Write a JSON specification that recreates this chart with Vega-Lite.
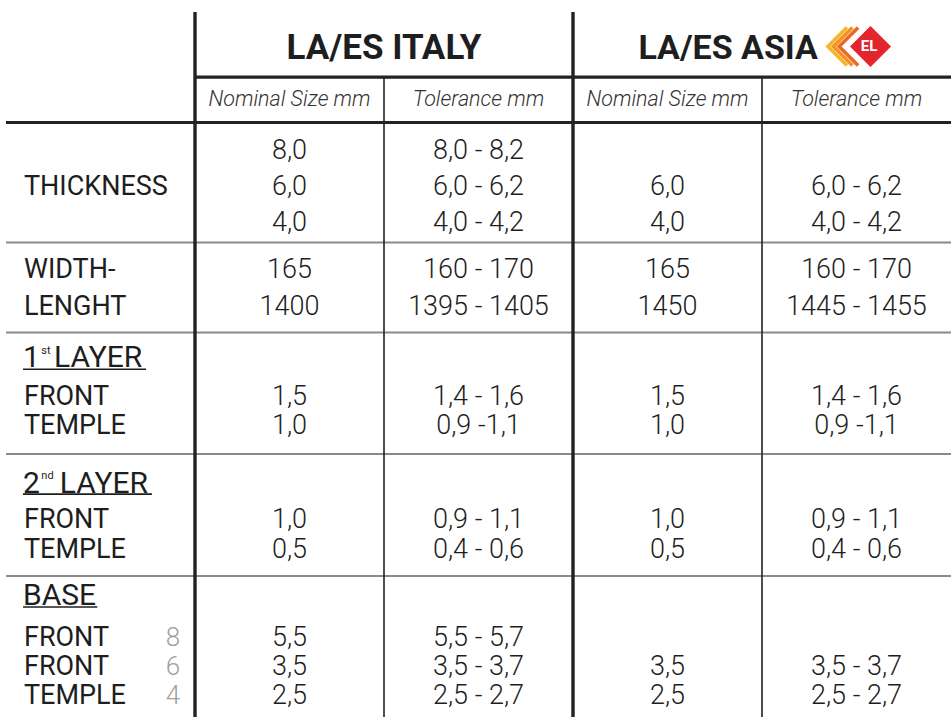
{
  "$schema": "https://vega.github.io/schema/vega-lite/v6.json",
  "width": 951,
  "height": 717,
  "padding": 0,
  "autosize": {"type": "none"},
  "background": "white",
  "config": {"view": {"stroke": null}, "font": "Roboto"},
  "datasets": {
    "thickH": [
      {"line": 2.58, "col": "itN", "col2": "asT"},
      {"line": 4.1, "col": "label", "col2": "asT"}
    ],
    "grayH": [
      {"line": 8.12, "col": "label", "col2": "asT"},
      {"line": 11.13, "col": "label", "col2": "asT"},
      {"line": 15.2, "col": "label", "col2": "asT"},
      {"line": 19.28, "col": "label", "col2": "asT"}
    ],
    "thickV": [
      {"col": "itN", "line": 0.4, "line2": 24},
      {"col": "asN", "line": 0.4, "line2": 24}
    ],
    "thinV": [
      {"col": "itT", "line": 2.58, "line2": 24},
      {"col": "asT", "line": 2.58, "line2": 24}
    ],
    "headItaly": [{"col": "itT", "line": 1.99, "text": "LA/ES ITALY"}],
    "headAsia": [{"col": "asT", "line": 1.99, "text": "LA/ES ASIA"}],
    "subheads": [
      {"col": "itN", "line": 3.56, "text": "Nominal Size mm"},
      {"col": "itT", "line": 3.56, "text": "Tolerance mm"},
      {"col": "asN", "line": 3.56, "text": "Nominal Size mm"},
      {"col": "asT", "line": 3.56, "text": "Tolerance mm"}
    ],
    "labels": [
      {"col": "label", "line": 6.53, "text": "THICKNESS"},
      {"col": "label", "line": 9.32, "text": "WIDTH-"},
      {"col": "label", "line": 10.53, "text": "LENGHT"},
      {"col": "label", "line": 13.54, "text": "FRONT"},
      {"col": "label", "line": 14.53, "text": "TEMPLE"},
      {"col": "label", "line": 17.67, "text": "FRONT"},
      {"col": "label", "line": 18.68, "text": "TEMPLE"},
      {"col": "label", "line": 21.63, "text": "FRONT"},
      {"col": "label", "line": 22.61, "text": "FRONT"},
      {"col": "label", "line": 23.58, "text": "TEMPLE"}
    ],
    "titleNum": [
      {"col": "label", "line": 12.27, "text": "1"},
      {"col": "label", "line": 16.49, "text": "2"},
      {"col": "label", "line": 20.25, "text": "BASE"}
    ],
    "titleSup": [
      {"col": "label", "line": 11.84, "text": "st"},
      {"col": "label", "line": 16.04, "text": "nd"}
    ],
    "titleWord1": [{"col": "label", "line": 12.27, "text": "LAYER"}],
    "titleWord2": [{"col": "label", "line": 16.49, "text": "LAYER"}],
    "notes": [
      {"col": "label", "line": 21.63, "text": "8"},
      {"col": "label", "line": 22.61, "text": "6"},
      {"col": "label", "line": 23.58, "text": "4"}
    ],
    "values": [
      {"col": "itN", "line": 5.31, "text": "8,0"},
      {"col": "itN", "line": 6.53, "text": "6,0"},
      {"col": "itN", "line": 7.72, "text": "4,0"},
      {"col": "itN", "line": 9.32, "text": "165"},
      {"col": "itN", "line": 10.53, "text": "1400"},
      {"col": "itN", "line": 13.54, "text": "1,5"},
      {"col": "itN", "line": 14.53, "text": "1,0"},
      {"col": "itN", "line": 17.67, "text": "1,0"},
      {"col": "itN", "line": 18.68, "text": "0,5"},
      {"col": "itN", "line": 21.63, "text": "5,5"},
      {"col": "itN", "line": 22.61, "text": "3,5"},
      {"col": "itN", "line": 23.58, "text": "2,5"},
      {"col": "itT", "line": 5.31, "text": "8,0 - 8,2"},
      {"col": "itT", "line": 6.53, "text": "6,0 - 6,2"},
      {"col": "itT", "line": 7.72, "text": "4,0 - 4,2"},
      {"col": "itT", "line": 9.32, "text": "160 - 170"},
      {"col": "itT", "line": 10.53, "text": "1395 - 1405"},
      {"col": "itT", "line": 13.54, "text": "1,4 - 1,6"},
      {"col": "itT", "line": 14.53, "text": "0,9 -1,1"},
      {"col": "itT", "line": 17.67, "text": "0,9 - 1,1"},
      {"col": "itT", "line": 18.68, "text": "0,4 - 0,6"},
      {"col": "itT", "line": 21.63, "text": "5,5 - 5,7"},
      {"col": "itT", "line": 22.61, "text": "3,5 - 3,7"},
      {"col": "itT", "line": 23.58, "text": "2,5 - 2,7"},
      {"col": "asN", "line": 6.53, "text": "6,0"},
      {"col": "asN", "line": 7.72, "text": "4,0"},
      {"col": "asN", "line": 9.32, "text": "165"},
      {"col": "asN", "line": 10.53, "text": "1450"},
      {"col": "asN", "line": 13.54, "text": "1,5"},
      {"col": "asN", "line": 14.53, "text": "1,0"},
      {"col": "asN", "line": 17.67, "text": "1,0"},
      {"col": "asN", "line": 18.68, "text": "0,5"},
      {"col": "asN", "line": 22.61, "text": "3,5"},
      {"col": "asN", "line": 23.58, "text": "2,5"},
      {"col": "asT", "line": 6.53, "text": "6,0 - 6,2"},
      {"col": "asT", "line": 7.72, "text": "4,0 - 4,2"},
      {"col": "asT", "line": 9.32, "text": "160 - 170"},
      {"col": "asT", "line": 10.53, "text": "1445 - 1455"},
      {"col": "asT", "line": 13.54, "text": "1,4 - 1,6"},
      {"col": "asT", "line": 14.53, "text": "0,9 -1,1"},
      {"col": "asT", "line": 17.67, "text": "0,9 - 1,1"},
      {"col": "asT", "line": 18.68, "text": "0,4 - 0,6"},
      {"col": "asT", "line": 22.61, "text": "3,5 - 3,7"},
      {"col": "asT", "line": 23.58, "text": "2,5 - 2,7"}
    ],
    "underline1": [{"col": "label", "line": 12.36}],
    "underline2": [{"col": "label", "line": 16.54}],
    "underline3": [{"col": "label", "line": 20.32}],
    "logo": [{"col": "asT", "line": 1.556, "text": "EL"}]
  },
  "layer": [
    {
      "data": {"name": "grayH"},
      "mark": {"type": "rule", "stroke": "#8a8a8a", "strokeWidth": 2},
      "encoding": {
        "x": {"field": "col", "type": "nominal", "bandPosition": 0, "axis": null, "scale": {"type": "band", "domain": ["label", "itN", "itT", "asN", "asT"], "range": [6, 951], "paddingInner": 0, "paddingOuter": 0}},
        "x2": {"field": "col2", "bandPosition": 1},
        "y": {"field": "line", "type": "quantitative", "axis": null, "scale": {"domain": [0, 24], "range": [0, 717], "nice": false, "zero": false}}
      }
    },
    {
      "data": {"name": "thickH"},
      "mark": {"type": "rule", "stroke": "#222222", "strokeWidth": 3.2},
      "encoding": {
        "x": {"field": "col", "type": "nominal", "bandPosition": 0, "axis": null, "scale": {"type": "band", "domain": ["label", "itN", "itT", "asN", "asT"], "range": [6, 951], "paddingInner": 0, "paddingOuter": 0}},
        "x2": {"field": "col2", "bandPosition": 1},
        "y": {"field": "line", "type": "quantitative", "axis": null, "scale": {"domain": [0, 24], "range": [0, 717], "nice": false, "zero": false}}
      }
    },
    {
      "data": {"name": "thinV"},
      "mark": {"type": "rule", "stroke": "#222222", "strokeWidth": 1.6},
      "encoding": {
        "x": {"field": "col", "type": "nominal", "bandPosition": 0, "axis": null, "scale": {"type": "band", "domain": ["label", "itN", "itT", "asN", "asT"], "range": [6, 951], "paddingInner": 0, "paddingOuter": 0}},
        "y": {"field": "line", "type": "quantitative", "axis": null, "scale": {"domain": [0, 24], "range": [0, 717], "nice": false, "zero": false}},
        "y2": {"field": "line2"}
      }
    },
    {
      "data": {"name": "thickV"},
      "mark": {"type": "rule", "stroke": "#222222", "strokeWidth": 3.4},
      "encoding": {
        "x": {"field": "col", "type": "nominal", "bandPosition": 0, "axis": null, "scale": {"type": "band", "domain": ["label", "itN", "itT", "asN", "asT"], "range": [6, 951], "paddingInner": 0, "paddingOuter": 0}},
        "y": {"field": "line", "type": "quantitative", "axis": null, "scale": {"domain": [0, 24], "range": [0, 717], "nice": false, "zero": false}},
        "y2": {"field": "line2"}
      }
    },
    {
      "data": {"name": "headItaly"},
      "mark": {"type": "text", "align": "center", "baseline": "alphabetic", "fontSize": 35, "fontWeight": 700, "fill": "#1e1e1e"},
      "encoding": {
        "x": {"field": "col", "type": "nominal", "bandPosition": 0, "axis": null, "scale": {"type": "band", "domain": ["label", "itN", "itT", "asN", "asT"], "range": [6, 951], "paddingInner": 0, "paddingOuter": 0}},
        "y": {"field": "line", "type": "quantitative", "axis": null, "scale": {"domain": [0, 24], "range": [0, 717], "nice": false, "zero": false}},
        "text": {"field": "text"}
      }
    },
    {
      "data": {"name": "headAsia"},
      "mark": {"type": "text", "align": "right", "baseline": "alphabetic", "fontSize": 34, "fontWeight": 700, "fill": "#1e1e1e"},
      "encoding": {
        "x": {"field": "col", "type": "nominal", "bandPosition": 0.296, "axis": null, "scale": {"type": "band", "domain": ["label", "itN", "itT", "asN", "asT"], "range": [6, 951], "paddingInner": 0, "paddingOuter": 0}},
        "y": {"field": "line", "type": "quantitative", "axis": null, "scale": {"domain": [0, 24], "range": [0, 717], "nice": false, "zero": false}},
        "text": {"field": "text"}
      }
    },
    {
      "data": {"name": "subheads"},
      "mark": {"type": "text", "align": "center", "baseline": "alphabetic", "fontSize": 21.5, "fontWeight": 300, "fontStyle": "italic", "fill": "#333333"},
      "encoding": {
        "x": {"field": "col", "type": "nominal", "bandPosition": 0.5, "axis": null, "scale": {"type": "band", "domain": ["label", "itN", "itT", "asN", "asT"], "range": [6, 951], "paddingInner": 0, "paddingOuter": 0}},
        "y": {"field": "line", "type": "quantitative", "axis": null, "scale": {"domain": [0, 24], "range": [0, 717], "nice": false, "zero": false}},
        "text": {"field": "text"}
      }
    },
    {
      "data": {"name": "labels"},
      "mark": {"type": "text", "align": "left", "baseline": "alphabetic", "fontSize": 27, "fontWeight": 400, "fill": "#1e1e1e"},
      "encoding": {
        "x": {"field": "col", "type": "nominal", "bandPosition": 0.095, "axis": null, "scale": {"type": "band", "domain": ["label", "itN", "itT", "asN", "asT"], "range": [6, 951], "paddingInner": 0, "paddingOuter": 0}},
        "y": {"field": "line", "type": "quantitative", "axis": null, "scale": {"domain": [0, 24], "range": [0, 717], "nice": false, "zero": false}},
        "text": {"field": "text"}
      }
    },
    {
      "data": {"name": "titleNum"},
      "mark": {"type": "text", "align": "left", "baseline": "alphabetic", "fontSize": 30, "fontWeight": 400, "fill": "#1e1e1e"},
      "encoding": {
        "x": {"field": "col", "type": "nominal", "bandPosition": 0.09, "axis": null, "scale": {"type": "band", "domain": ["label", "itN", "itT", "asN", "asT"], "range": [6, 951], "paddingInner": 0, "paddingOuter": 0}},
        "y": {"field": "line", "type": "quantitative", "axis": null, "scale": {"domain": [0, 24], "range": [0, 717], "nice": false, "zero": false}},
        "text": {"field": "text"}
      }
    },
    {
      "data": {"name": "titleSup"},
      "mark": {"type": "text", "align": "left", "baseline": "alphabetic", "fontSize": 11, "fontWeight": 400, "fill": "#1e1e1e"},
      "encoding": {
        "x": {"field": "col", "type": "nominal", "bandPosition": 0.187, "axis": null, "scale": {"type": "band", "domain": ["label", "itN", "itT", "asN", "asT"], "range": [6, 951], "paddingInner": 0, "paddingOuter": 0}},
        "y": {"field": "line", "type": "quantitative", "axis": null, "scale": {"domain": [0, 24], "range": [0, 717], "nice": false, "zero": false}},
        "text": {"field": "text"}
      }
    },
    {
      "data": {"name": "titleWord1"},
      "mark": {"type": "text", "align": "left", "baseline": "alphabetic", "fontSize": 30, "fontWeight": 400, "fill": "#1e1e1e"},
      "encoding": {
        "x": {"field": "col", "type": "nominal", "bandPosition": 0.254, "axis": null, "scale": {"type": "band", "domain": ["label", "itN", "itT", "asN", "asT"], "range": [6, 951], "paddingInner": 0, "paddingOuter": 0}},
        "y": {"field": "line", "type": "quantitative", "axis": null, "scale": {"domain": [0, 24], "range": [0, 717], "nice": false, "zero": false}},
        "text": {"field": "text"}
      }
    },
    {
      "data": {"name": "titleWord2"},
      "mark": {"type": "text", "align": "left", "baseline": "alphabetic", "fontSize": 30, "fontWeight": 400, "fill": "#1e1e1e"},
      "encoding": {
        "x": {"field": "col", "type": "nominal", "bandPosition": 0.285, "axis": null, "scale": {"type": "band", "domain": ["label", "itN", "itT", "asN", "asT"], "range": [6, 951], "paddingInner": 0, "paddingOuter": 0}},
        "y": {"field": "line", "type": "quantitative", "axis": null, "scale": {"domain": [0, 24], "range": [0, 717], "nice": false, "zero": false}},
        "text": {"field": "text"}
      }
    },
    {
      "data": {"name": "notes"},
      "mark": {"type": "text", "align": "right", "baseline": "alphabetic", "fontSize": 26, "fontWeight": 300, "fill": "#a0a0a0"},
      "encoding": {
        "x": {"field": "col", "type": "nominal", "bandPosition": 0.921, "axis": null, "scale": {"type": "band", "domain": ["label", "itN", "itT", "asN", "asT"], "range": [6, 951], "paddingInner": 0, "paddingOuter": 0}},
        "y": {"field": "line", "type": "quantitative", "axis": null, "scale": {"domain": [0, 24], "range": [0, 717], "nice": false, "zero": false}},
        "text": {"field": "text"}
      }
    },
    {
      "data": {"name": "values"},
      "mark": {"type": "text", "align": "center", "baseline": "alphabetic", "fontSize": 27, "fontWeight": 300, "fill": "#1e1e1e"},
      "encoding": {
        "x": {"field": "col", "type": "nominal", "bandPosition": 0.5, "axis": null, "scale": {"type": "band", "domain": ["label", "itN", "itT", "asN", "asT"], "range": [6, 951], "paddingInner": 0, "paddingOuter": 0}},
        "y": {"field": "line", "type": "quantitative", "axis": null, "scale": {"domain": [0, 24], "range": [0, 717], "nice": false, "zero": false}},
        "text": {"field": "text"}
      }
    },
    {
      "data": {"name": "underline1"},
      "mark": {"type": "rule", "stroke": "#1e1e1e", "strokeWidth": 1.6},
      "encoding": {
        "x": {"field": "col", "type": "nominal", "bandPosition": 0.09, "axis": null, "scale": {"type": "band", "domain": ["label", "itN", "itT", "asN", "asT"], "range": [6, 951], "paddingInner": 0, "paddingOuter": 0}},
        "x2": {"field": "col", "bandPosition": 0.741},
        "y": {"field": "line", "type": "quantitative", "axis": null, "scale": {"domain": [0, 24], "range": [0, 717], "nice": false, "zero": false}}
      }
    },
    {
      "data": {"name": "underline2"},
      "mark": {"type": "rule", "stroke": "#1e1e1e", "strokeWidth": 1.6},
      "encoding": {
        "x": {"field": "col", "type": "nominal", "bandPosition": 0.09, "axis": null, "scale": {"type": "band", "domain": ["label", "itN", "itT", "asN", "asT"], "range": [6, 951], "paddingInner": 0, "paddingOuter": 0}},
        "x2": {"field": "col", "bandPosition": 0.772},
        "y": {"field": "line", "type": "quantitative", "axis": null, "scale": {"domain": [0, 24], "range": [0, 717], "nice": false, "zero": false}}
      }
    },
    {
      "data": {"name": "underline3"},
      "mark": {"type": "rule", "stroke": "#1e1e1e", "strokeWidth": 1.6},
      "encoding": {
        "x": {"field": "col", "type": "nominal", "bandPosition": 0.09, "axis": null, "scale": {"type": "band", "domain": ["label", "itN", "itT", "asN", "asT"], "range": [6, 951], "paddingInner": 0, "paddingOuter": 0}},
        "x2": {"field": "col", "bandPosition": 0.483},
        "y": {"field": "line", "type": "quantitative", "axis": null, "scale": {"domain": [0, 24], "range": [0, 717], "nice": false, "zero": false}}
      }
    },
    {
      "data": {"name": "logo"},
      "mark": {"type": "point", "shape": "M1,-1L0,0L1,1", "filled": false, "stroke": "#f7b52c", "strokeWidth": 3.6, "size": 1444, "opacity": 1},
      "encoding": {
        "x": {"field": "col", "type": "nominal", "bandPosition": 0.349, "axis": null, "scale": {"type": "band", "domain": ["label", "itN", "itT", "asN", "asT"], "range": [6, 951], "paddingInner": 0, "paddingOuter": 0}},
        "y": {"field": "line", "type": "quantitative", "axis": null, "scale": {"domain": [0, 24], "range": [0, 717], "nice": false, "zero": false}}
      }
    },
    {
      "data": {"name": "logo"},
      "mark": {"type": "point", "shape": "M1,-1L0,0L1,1", "filled": false, "stroke": "#f39325", "strokeWidth": 3.6, "size": 1444, "opacity": 1},
      "encoding": {
        "x": {"field": "col", "type": "nominal", "bandPosition": 0.378, "axis": null, "scale": {"type": "band", "domain": ["label", "itN", "itT", "asN", "asT"], "range": [6, 951], "paddingInner": 0, "paddingOuter": 0}},
        "y": {"field": "line", "type": "quantitative", "axis": null, "scale": {"domain": [0, 24], "range": [0, 717], "nice": false, "zero": false}}
      }
    },
    {
      "data": {"name": "logo"},
      "mark": {"type": "point", "shape": "M1,-1L0,0L1,1", "filled": false, "stroke": "#ea6a24", "strokeWidth": 3.6, "size": 1444, "opacity": 1},
      "encoding": {
        "x": {"field": "col", "type": "nominal", "bandPosition": 0.408, "axis": null, "scale": {"type": "band", "domain": ["label", "itN", "itT", "asN", "asT"], "range": [6, 951], "paddingInner": 0, "paddingOuter": 0}},
        "y": {"field": "line", "type": "quantitative", "axis": null, "scale": {"domain": [0, 24], "range": [0, 717], "nice": false, "zero": false}}
      }
    },
    {
      "data": {"name": "logo"},
      "mark": {"type": "point", "shape": "diamond", "filled": true, "fill": "#e3242b", "strokeWidth": 0, "size": 1681, "opacity": 1},
      "encoding": {
        "x": {"field": "col", "type": "nominal", "bandPosition": 0.574, "axis": null, "scale": {"type": "band", "domain": ["label", "itN", "itT", "asN", "asT"], "range": [6, 951], "paddingInner": 0, "paddingOuter": 0}},
        "y": {"field": "line", "type": "quantitative", "axis": null, "scale": {"domain": [0, 24], "range": [0, 717], "nice": false, "zero": false}}
      }
    },
    {
      "data": {"name": "logo"},
      "mark": {"type": "text", "align": "center", "baseline": "middle", "fontSize": 15, "fontWeight": 700, "fill": "white"},
      "encoding": {
        "x": {"field": "col", "type": "nominal", "bandPosition": 0.566, "axis": null, "scale": {"type": "band", "domain": ["label", "itN", "itT", "asN", "asT"], "range": [6, 951], "paddingInner": 0, "paddingOuter": 0}},
        "y": {"field": "line", "type": "quantitative", "axis": null, "scale": {"domain": [0, 24], "range": [0, 717], "nice": false, "zero": false}},
        "text": {"field": "text"}
      }
    }
  ]
}
